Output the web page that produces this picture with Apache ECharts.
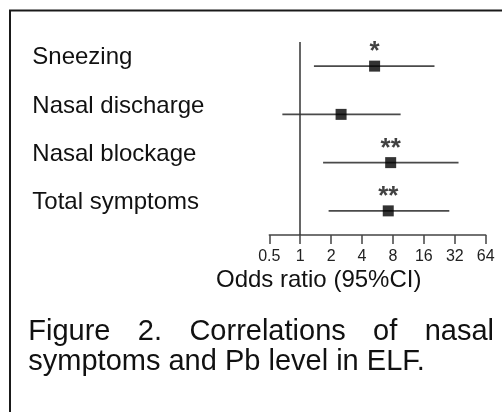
<!DOCTYPE html>
<html><head><meta charset="utf-8">
<script src="https://cdn.jsdelivr.net/npm/echarts@6/dist/echarts.min.js"></script>
<style>html,body{margin:0;padding:0;background:#fff}#c{width:502px;height:412px}</style>
</head><body><div id="c"></div>
<script>
const categories = ['Sneezing', 'Nasal discharge', 'Nasal blockage', 'Total symptoms'];
const oddsRatio = [5.3, 2.5, 7.6, 7.2];
const ciLower = [1.36, 0.67, 1.67, 1.89];
const ciUpper = [20.3, 9.5, 34.8, 28.3];
const significance = ['*', '', '**', '**'];
const tickLabels = ['0.5', '1', '2', '4', '8', '16', '32', '64'];
const referenceOR = 1;
const axisTitle = 'Odds ratio (95%CI)';
const captionLine1 = ['Figure', '2.', 'Correlations', 'of', 'nasal'];
const captionLine2 = 'symptoms and Pb level in ELF.';

const FONT = "'Liberation Sans', Arial, Helvetica, sans-serif";
const TXT = '#111';
const CAP_FONT = '29px ' + FONT;

const ciData = categories.map((c, i) => [ciLower[i], ciUpper[i], i]);
const pointData = categories.map((c, i) => [oddsRatio[i], i]);

// justify first caption line between left and right margins
const capLeft = 28.3, capRight = 494;
const ctx = document.createElement('canvas').getContext('2d');
ctx.font = CAP_FONT;
const widths = captionLine1.map(w => ctx.measureText(w).width);
const totalW = widths.reduce((a, b) => a + b, 0);
const gap = (capRight - capLeft - totalW) / (captionLine1.length - 1);

const graphic = [
  { type: 'rect', shape: { x: 10, y: 10.5, width: 700, height: 700 }, style: { fill: 'none', stroke: '#1a1a1a', lineWidth: 2 }, silent: true },
  { type: 'text', left: 216, top: 268, style: { text: axisTitle, font: '24px ' + FONT, fill: TXT } }
];
let cx = capLeft;
captionLine1.forEach((w, i) => {
  graphic.push({ type: 'text', x: cx, y: 331.5, style: { text: w, font: CAP_FONT, fill: TXT, align: 'left', verticalAlign: 'middle' } });
  cx += widths[i] + gap;
});
graphic.push({ type: 'text', x: capLeft, y: 361.5, style: { text: captionLine2, font: CAP_FONT, fill: TXT, align: 'left', verticalAlign: 'middle' } });

const chart = echarts.init(document.getElementById('c'), null, { renderer: 'canvas' });
chart.setOption({
  animation: false,
  backgroundColor: '#fff',
  grid: { left: 269.3, right: 16.3, top: 42, bottom: 177, containLabel: false, outerBoundsMode: 'none' },
  xAxis: {
    type: 'log', logBase: 2, min: 0.5, max: 64, interval: 1,
    axisLine: { show: true, lineStyle: { color: '#444', width: 1.5 } },
    axisTick: { show: true, length: 9, inside: false, lineStyle: { color: '#444', width: 1.5 } },
    splitLine: { show: false },
    axisLabel: {
      fontSize: 16, fontFamily: FONT, color: '#222', margin: 14, showMinLabel: true, showMaxLabel: true,
      formatter: v => tickLabels[Math.round(Math.log2(v)) + 1]
    }
  },
  yAxis: {
    type: 'category', data: categories, inverse: true,
    axisLine: { show: false }, axisTick: { show: false }, splitLine: { show: false },
    axisLabel: { align: 'left', verticalAlign: 'bottom', lineHeight: 17, margin: 237, fontSize: 24, fontFamily: FONT, color: TXT }
  },
  graphic: graphic,
  series: [
    {
      type: 'custom',
      data: ciData,
      encode: { x: [0, 1], y: 2 },
      renderItem: (params, api) => {
        const a = api.coord([api.value(0), api.value(2)]);
        const b = api.coord([api.value(1), api.value(2)]);
        return { type: 'line', shape: { x1: a[0], y1: a[1], x2: b[0], y2: b[1] }, style: { stroke: '#4a4a4a', lineWidth: 1.7 } };
      },
      z: 2
    },
    {
      type: 'scatter',
      data: pointData,
      symbol: 'rect', symbolSize: 11,
      itemStyle: { color: '#000' },
      label: {
        show: true, position: 'inside', offset: [0, -14],
        formatter: p => significance[p.dataIndex],
        fontSize: 26, fontWeight: 'bold', fontFamily: FONT, color: TXT
      },
      markLine: {
        silent: true, symbol: 'none', animation: false,
        label: { show: false },
        lineStyle: { color: '#333', width: 1.5, type: 'solid' },
        data: [{ xAxis: referenceOR }]
      },
      z: 3
    }
  ]
});
</script>
</body></html>
